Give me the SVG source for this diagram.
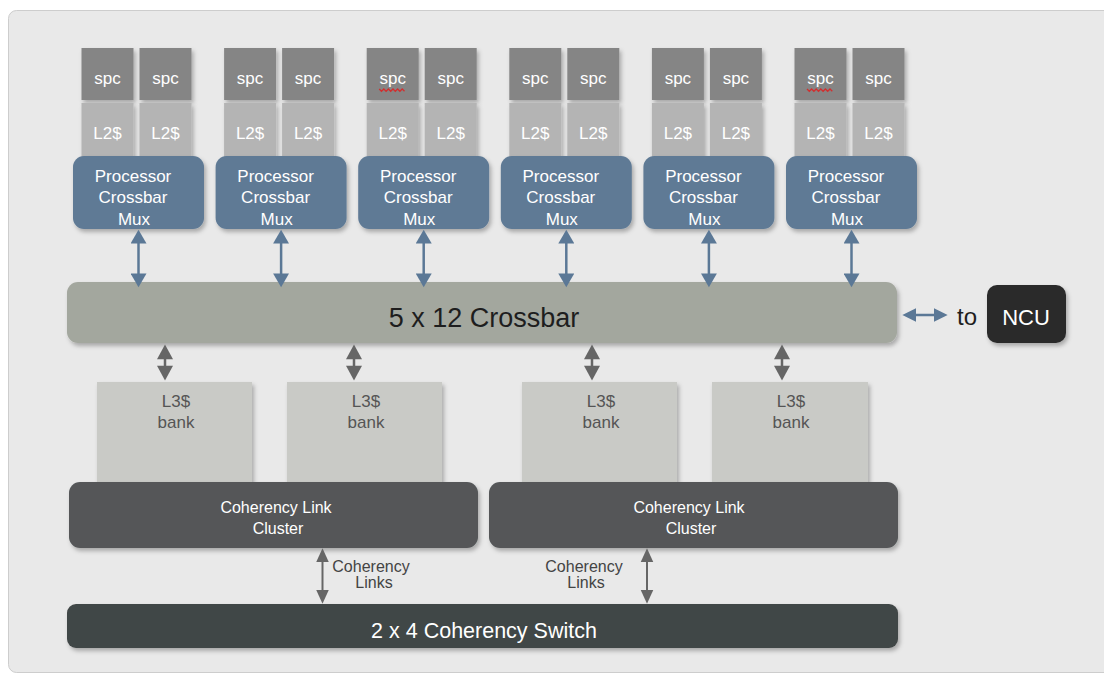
<svg xmlns="http://www.w3.org/2000/svg" width="1104" height="675" viewBox="0 0 1104 675">
<defs>
<filter id="sh" x="-10%" y="-10%" width="125%" height="140%">
<feDropShadow dx="2" dy="3" stdDeviation="2.2" flood-color="#000" flood-opacity="0.28"/>
</filter>
<marker id="ab" markerUnits="userSpaceOnUse" markerWidth="16" markerHeight="16" viewBox="0 0 13 15" refX="9" refY="7.5" orient="auto-start-reverse">
<path d="M0,0 L13,7.5 L0,15 z" fill="#5b7896"/>
</marker>
<marker id="ag" markerUnits="userSpaceOnUse" markerWidth="16" markerHeight="16" viewBox="0 0 13 14" refX="9" refY="7" orient="auto-start-reverse">
<path d="M0,0 L13,7 L0,14 z" fill="#666"/>
</marker>
<marker id="ac" markerUnits="userSpaceOnUse" markerWidth="14" markerHeight="14" viewBox="0 0 12 11" refX="8" refY="5.5" orient="auto-start-reverse">
<path d="M0,0 L12,5.5 L0,11 z" fill="#666"/>
</marker>
<marker id="an" markerUnits="userSpaceOnUse" markerWidth="14" markerHeight="14" viewBox="0 0 12 12" refX="8" refY="6" orient="auto-start-reverse">
<path d="M0,0 L12,6 L0,12 z" fill="#5b7896"/>
</marker>
</defs>
<style>
text{font-family:"Liberation Sans",Arial,Helvetica,sans-serif;text-anchor:middle}
.spc{fill:#858585;filter:url(#sh)}
.l2{fill:#b4b4b4;filter:url(#sh)}
.mux{fill:#5f7a95;filter:url(#sh)}
.wt{fill:#fff;font-size:17px}
.l3{fill:#c9cac6;filter:url(#sh)}
.l3t{fill:#555;font-size:17px}
.clu{fill:#545759;filter:url(#sh)}
.ct{fill:#fff;font-size:16px}
.blue{stroke:#5b7896;stroke-width:2.5;fill:none;marker-start:url(#ab);marker-end:url(#ab)}
.gray{stroke:#666;stroke-width:2.5;fill:none;marker-start:url(#ag);marker-end:url(#ag)}
.coh{stroke:#666;stroke-width:2;fill:none;marker-start:url(#ac);marker-end:url(#ac)}
.ncu{stroke:#5b7896;stroke-width:2.5;fill:none;marker-start:url(#an);marker-end:url(#an)}
.lbl{fill:#444;font-size:16px}
.sq{stroke:#d03030;stroke-width:1.3;fill:none}
</style>
<rect x="8.5" y="10.5" width="1110" height="662" rx="8" fill="#e9e9e9" stroke="#cdcdcd" stroke-width="1"/>

<g id="cpu0">
<rect class="spc" x="81.5" y="48" width="52" height="52"/>
<rect class="spc" x="139.5" y="48" width="52" height="52"/>
<rect class="l2" x="81.5" y="103" width="52" height="60"/>
<rect class="l2" x="139.5" y="103" width="52" height="60"/>
<text class="wt" x="107.5" y="84">spc</text>
<text class="wt" x="165.5" y="84">spc</text>
<text class="wt" x="107.5" y="139">L2$</text>
<text class="wt" x="165.5" y="139">L2$</text>
<rect class="mux" x="73" y="156" width="131" height="73" rx="11"/>
<text class="wt" x="133" y="182">Processor</text>
<text class="wt" x="133" y="203">Crossbar</text>
<text class="wt" x="134" y="225">Mux</text>
</g>
<g id="cpu1" transform="translate(142.6,0)">
<rect class="spc" x="81.5" y="48" width="52" height="52"/>
<rect class="spc" x="139.5" y="48" width="52" height="52"/>
<rect class="l2" x="81.5" y="103" width="52" height="60"/>
<rect class="l2" x="139.5" y="103" width="52" height="60"/>
<text class="wt" x="107.5" y="84">spc</text>
<text class="wt" x="165.5" y="84">spc</text>
<text class="wt" x="107.5" y="139">L2$</text>
<text class="wt" x="165.5" y="139">L2$</text>
<rect class="mux" x="73" y="156" width="131" height="73" rx="11"/>
<text class="wt" x="133" y="182">Processor</text>
<text class="wt" x="133" y="203">Crossbar</text>
<text class="wt" x="134" y="225">Mux</text>
</g>
<g id="cpu2" transform="translate(285.2,0)">
<rect class="spc" x="81.5" y="48" width="52" height="52"/>
<rect class="spc" x="139.5" y="48" width="52" height="52"/>
<rect class="l2" x="81.5" y="103" width="52" height="60"/>
<rect class="l2" x="139.5" y="103" width="52" height="60"/>
<text class="wt" x="107.5" y="84">spc</text>
<path class="sq" d="M94,89 l2.3,2.3 l2.3,-2.3 l2.3,2.3 l2.3,-2.3 l2.3,2.3 l2.3,-2.3 l2.3,2.3 l2.3,-2.3 l2.3,2.3 l2.3,-2.3 l2.3,2.3"/>
<text class="wt" x="165.5" y="84">spc</text>
<text class="wt" x="107.5" y="139">L2$</text>
<text class="wt" x="165.5" y="139">L2$</text>
<rect class="mux" x="73" y="156" width="131" height="73" rx="11"/>
<text class="wt" x="133" y="182">Processor</text>
<text class="wt" x="133" y="203">Crossbar</text>
<text class="wt" x="134" y="225">Mux</text>
</g>
<g id="cpu3" transform="translate(427.8,0)">
<rect class="spc" x="81.5" y="48" width="52" height="52"/>
<rect class="spc" x="139.5" y="48" width="52" height="52"/>
<rect class="l2" x="81.5" y="103" width="52" height="60"/>
<rect class="l2" x="139.5" y="103" width="52" height="60"/>
<text class="wt" x="107.5" y="84">spc</text>
<text class="wt" x="165.5" y="84">spc</text>
<text class="wt" x="107.5" y="139">L2$</text>
<text class="wt" x="165.5" y="139">L2$</text>
<rect class="mux" x="73" y="156" width="131" height="73" rx="11"/>
<text class="wt" x="133" y="182">Processor</text>
<text class="wt" x="133" y="203">Crossbar</text>
<text class="wt" x="134" y="225">Mux</text>
</g>
<g id="cpu4" transform="translate(570.4,0)">
<rect class="spc" x="81.5" y="48" width="52" height="52"/>
<rect class="spc" x="139.5" y="48" width="52" height="52"/>
<rect class="l2" x="81.5" y="103" width="52" height="60"/>
<rect class="l2" x="139.5" y="103" width="52" height="60"/>
<text class="wt" x="107.5" y="84">spc</text>
<text class="wt" x="165.5" y="84">spc</text>
<text class="wt" x="107.5" y="139">L2$</text>
<text class="wt" x="165.5" y="139">L2$</text>
<rect class="mux" x="73" y="156" width="131" height="73" rx="11"/>
<text class="wt" x="133" y="182">Processor</text>
<text class="wt" x="133" y="203">Crossbar</text>
<text class="wt" x="134" y="225">Mux</text>
</g>
<g id="cpu5" transform="translate(713,0)">
<rect class="spc" x="81.5" y="48" width="52" height="52"/>
<rect class="spc" x="139.5" y="48" width="52" height="52"/>
<rect class="l2" x="81.5" y="103" width="52" height="60"/>
<rect class="l2" x="139.5" y="103" width="52" height="60"/>
<text class="wt" x="107.5" y="84">spc</text>
<path class="sq" d="M94,89 l2.3,2.3 l2.3,-2.3 l2.3,2.3 l2.3,-2.3 l2.3,2.3 l2.3,-2.3 l2.3,2.3 l2.3,-2.3 l2.3,2.3 l2.3,-2.3 l2.3,2.3"/>
<text class="wt" x="165.5" y="84">spc</text>
<text class="wt" x="107.5" y="139">L2$</text>
<text class="wt" x="165.5" y="139">L2$</text>
<rect class="mux" x="73" y="156" width="131" height="73" rx="11"/>
<text class="wt" x="133" y="182">Processor</text>
<text class="wt" x="133" y="203">Crossbar</text>
<text class="wt" x="134" y="225">Mux</text>
</g>

<g id="crossbar">
<rect x="67" y="282" width="830" height="61" rx="11" fill="#a3a79e" filter="url(#sh)"/>
<text x="484" y="327" font-size="27" fill="#1e1e1e">5 x 12 Crossbar</text>
</g>

<g id="ncu">
<rect x="987" y="285" width="79" height="58" rx="10" fill="#2b2b2b" filter="url(#sh)"/>
<text x="1026" y="325" font-size="22" fill="#fff">NCU</text>
</g>
<text id="to-label" x="967" y="325" font-size="24" fill="#1e1e1e">to</text>

<g id="l3bank0">
<rect class="l3" x="97" y="382" width="155" height="102"/>
<text class="l3t" x="176" y="407">L3$</text>
<text class="l3t" x="176" y="428">bank</text>
</g>
<g id="l3bank1">
<rect class="l3" x="287" y="382" width="155" height="102"/>
<text class="l3t" x="366" y="407">L3$</text>
<text class="l3t" x="366" y="428">bank</text>
</g>
<g id="l3bank2">
<rect class="l3" x="522" y="382" width="155" height="102"/>
<text class="l3t" x="601" y="407">L3$</text>
<text class="l3t" x="601" y="428">bank</text>
</g>
<g id="l3bank3">
<rect class="l3" x="712" y="382" width="156" height="102"/>
<text class="l3t" x="791" y="407">L3$</text>
<text class="l3t" x="791" y="428">bank</text>
</g>

<g id="cluster0">
<rect class="clu" x="69" y="482" width="409" height="66" rx="11"/>
<text class="ct" x="276" y="513">Coherency Link</text>
<text class="ct" x="278" y="534">Cluster</text>
</g>
<g id="cluster1">
<rect class="clu" x="489" y="482" width="409" height="66" rx="11"/>
<text class="ct" x="689" y="513">Coherency Link</text>
<text class="ct" x="691" y="534">Cluster</text>
</g>

<g id="switch">
<rect x="67" y="604" width="831" height="44" rx="9" fill="#414646" filter="url(#sh)"/>
<text x="484" y="638" font-size="21.5" fill="#fff">2 x 4 Coherency Switch</text>
</g>

<g id="connectors">
<line class="blue" x1="138.5" y1="234" x2="138.5" y2="283"/>
<line class="blue" x1="281.1" y1="234" x2="281.1" y2="283"/>
<line class="blue" x1="423.7" y1="234" x2="423.7" y2="283"/>
<line class="blue" x1="566.3" y1="234" x2="566.3" y2="283"/>
<line class="blue" x1="708.9" y1="234" x2="708.9" y2="283"/>
<line class="blue" x1="851.5" y1="234" x2="851.5" y2="283"/>
<line class="gray" x1="165" y1="349" x2="165" y2="376"/>
<line class="gray" x1="354" y1="349" x2="354" y2="376"/>
<line class="gray" x1="592" y1="349" x2="592" y2="376"/>
<line class="gray" x1="782" y1="349" x2="782" y2="376"/>
<line class="ncu" x1="907" y1="315" x2="943" y2="315"/>
<line class="coh" x1="322.5" y1="553" x2="322.5" y2="599"/>
<line class="coh" x1="647" y1="553" x2="647" y2="599"/>
</g>
<g id="link-labels">
<text class="lbl" x="371" y="572">Coherency</text>
<text class="lbl" x="374" y="588">Links</text>
<text class="lbl" x="584" y="572">Coherency</text>
<text class="lbl" x="586" y="588">Links</text>
</g>
</svg>
